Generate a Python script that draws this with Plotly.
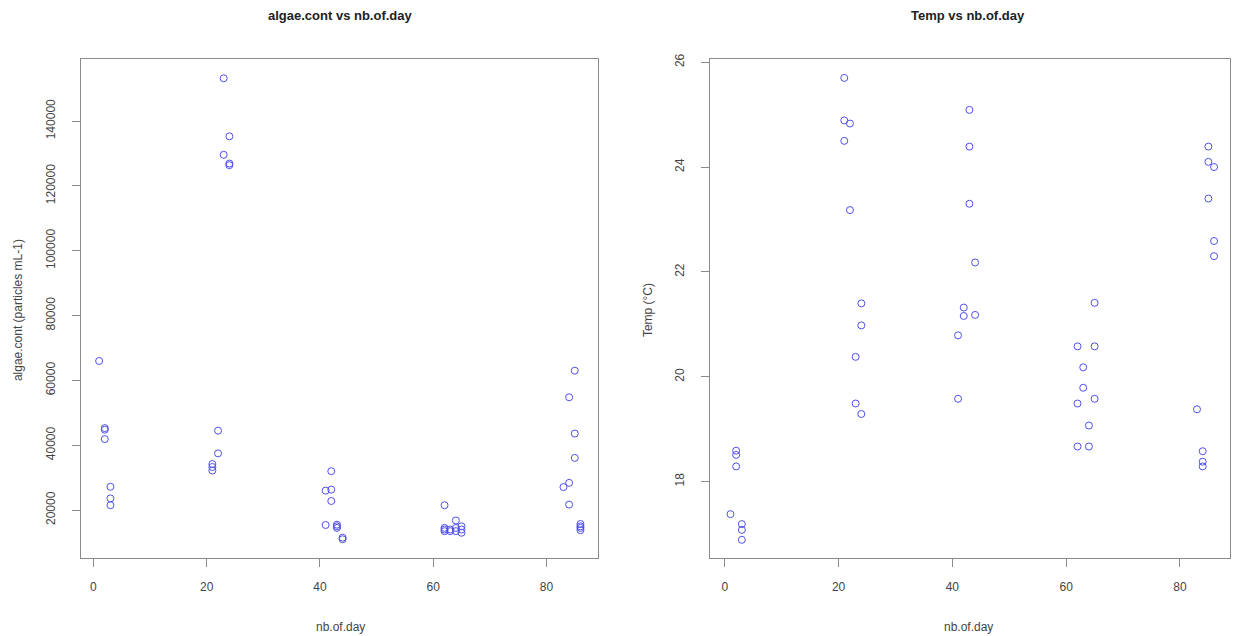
import plotly.graph_objects as go

# ---- data: left panel (algae.cont vs nb.of.day) ----
algae_day = [1, 2, 2, 2, 3, 3, 3, 21, 21, 21, 22, 22, 23, 23, 24, 24, 24,
             41, 41, 42, 42, 42, 43, 43, 43, 44, 44,
             62, 62, 62, 62, 63, 63, 64, 64, 64, 65, 65, 65,
             83, 84, 84, 84, 85, 85, 85, 86, 86, 86, 86]
algae_cont = [66000, 45300, 44800, 41900, 27200, 23600, 21500,
              34200, 33300, 32200, 44500, 37500, 153200, 129600,
              135300, 126900, 126400,
              26000, 15400, 32000, 26300, 22800, 15500, 15000, 14500, 11500, 11000,
              21500, 14500, 14000, 13500, 14000, 13500, 16800, 14500, 13500,
              15000, 14000, 13000,
              27100, 54800, 28400, 21700, 63000, 43600, 36100,
              15700, 15000, 14500, 13800]

# ---- data: right panel (Temp vs nb.of.day) ----
temp_day = [1, 2, 2, 2, 3, 3, 3, 21, 21, 21, 22, 22, 23, 23, 24, 24, 24,
            41, 41, 42, 42, 43, 43, 43, 44, 44,
            62, 62, 62, 63, 63, 64, 64, 65, 65, 65,
            83, 84, 84, 84, 85, 85, 85, 86, 86, 86]
temp = [17.38, 18.59, 18.51, 18.29, 17.19, 17.08, 16.89,
        25.70, 24.89, 24.50, 24.83, 23.18, 20.38, 19.49, 21.40, 20.98, 19.29,
        20.79, 19.58, 21.32, 21.16, 25.09, 24.39, 23.30, 22.18, 21.18,
        20.58, 19.49, 18.67, 20.18, 19.79, 19.07, 18.67, 21.41, 20.58, 19.58,
        19.38, 18.58, 18.38, 18.29, 24.39, 24.10, 23.40, 24.00, 22.59, 22.30]

x_ticks = [0, 20, 40, 60, 80]
algae_ticks = [20000, 40000, 60000, 80000, 100000, 120000, 140000]
algae_tick_labels = ["20000", "40000", "60000", "80000", "100000", "120000", "140000"]
temp_ticks = [18, 20, 22, 24, 26]

titles = ["algae.cont vs nb.of.day", "Temp vs nb.of.day"]
x_title = "nb.of.day"
y_titles = ["algae.cont (particles mL-1)", "Temp (°C)"]

W, H = 1233, 636
FONT = "Liberation Sans, Arial, sans-serif"
FRAME = "#8a8a8a"
TXT = "#444444"
MARK = "rgb(80,80,235)"

fig = go.Figure()
fig.add_trace(go.Scatter(x=algae_day, y=algae_cont, mode="markers",
                         marker=dict(symbol="circle-open", size=7, color=MARK,
                                     line=dict(width=1, color=MARK)),
                         xaxis="x", yaxis="y", showlegend=False))
fig.add_trace(go.Scatter(x=temp_day, y=temp, mode="markers",
                         marker=dict(symbol="circle-open", size=7, color=MARK,
                                     line=dict(width=1, color=MARK)),
                         xaxis="x2", yaxis="y2", showlegend=False))

def px_x(p):
    return p / W

def px_y(p):
    return 1 - p / H

ydom = [px_y(557), px_y(54)]

common = dict(showline=True, linecolor=FRAME, linewidth=1.3, mirror=True,
              ticks="outside", ticklen=8, tickcolor=FRAME, tickwidth=1.3,
              showgrid=False, zeroline=False,
              tickfont=dict(family=FONT, size=12, color=TXT))

fig.update_layout(
    width=W, height=H,
    margin=dict(l=0, r=0, t=0, b=0),
    paper_bgcolor="white", plot_bgcolor="white",
    xaxis=dict(domain=[px_x(81), px_x(598)], range=[-2.2, 89.1],
               tickvals=x_ticks, anchor="y", ticklabelstandoff=10, **common),
    yaxis=dict(domain=ydom, range=[5300, 159000], tickvals=algae_ticks,
               ticktext=algae_tick_labels,
               tickangle=-90, anchor="x", ticklabelstandoff=12, **common),
    xaxis2=dict(domain=[px_x(710), px_x(1230)], range=[-2.6, 88.8],
                tickvals=x_ticks, anchor="y2", ticklabelstandoff=10, **common),
    yaxis2=dict(domain=ydom, range=[16.548, 26.052], tickvals=temp_ticks,
                tickangle=-90, anchor="x2", ticklabelstandoff=12, **common),
)

ann = []
for cx, t in zip([340, 968], titles):
    ann.append(dict(text="<b>" + t + "</b>", x=px_x(cx), y=px_y(10),
                    xref="paper", yref="paper", xanchor="center", yanchor="middle",
                    showarrow=False, font=dict(family=FONT, size=13, color="#222")))
for cx in [340, 968]:
    ann.append(dict(text=x_title, x=px_x(cx), y=px_y(627),
                    xref="paper", yref="paper", xanchor="center", yanchor="middle",
                    showarrow=False, font=dict(family=FONT, size=12, color=TXT)))
for cx, t in zip([18, 648], y_titles):
    ann.append(dict(text=t, x=px_x(cx), y=px_y(307), textangle=-90,
                    xref="paper", yref="paper", xanchor="center", yanchor="middle",
                    showarrow=False, font=dict(family=FONT, size=12, color=TXT)))
fig.update_layout(annotations=ann)

fig.write_html("out.html", config={"displayModeBar": False},
               post_script="document.body.style.margin='0';document.body.style.overflow='hidden';")
